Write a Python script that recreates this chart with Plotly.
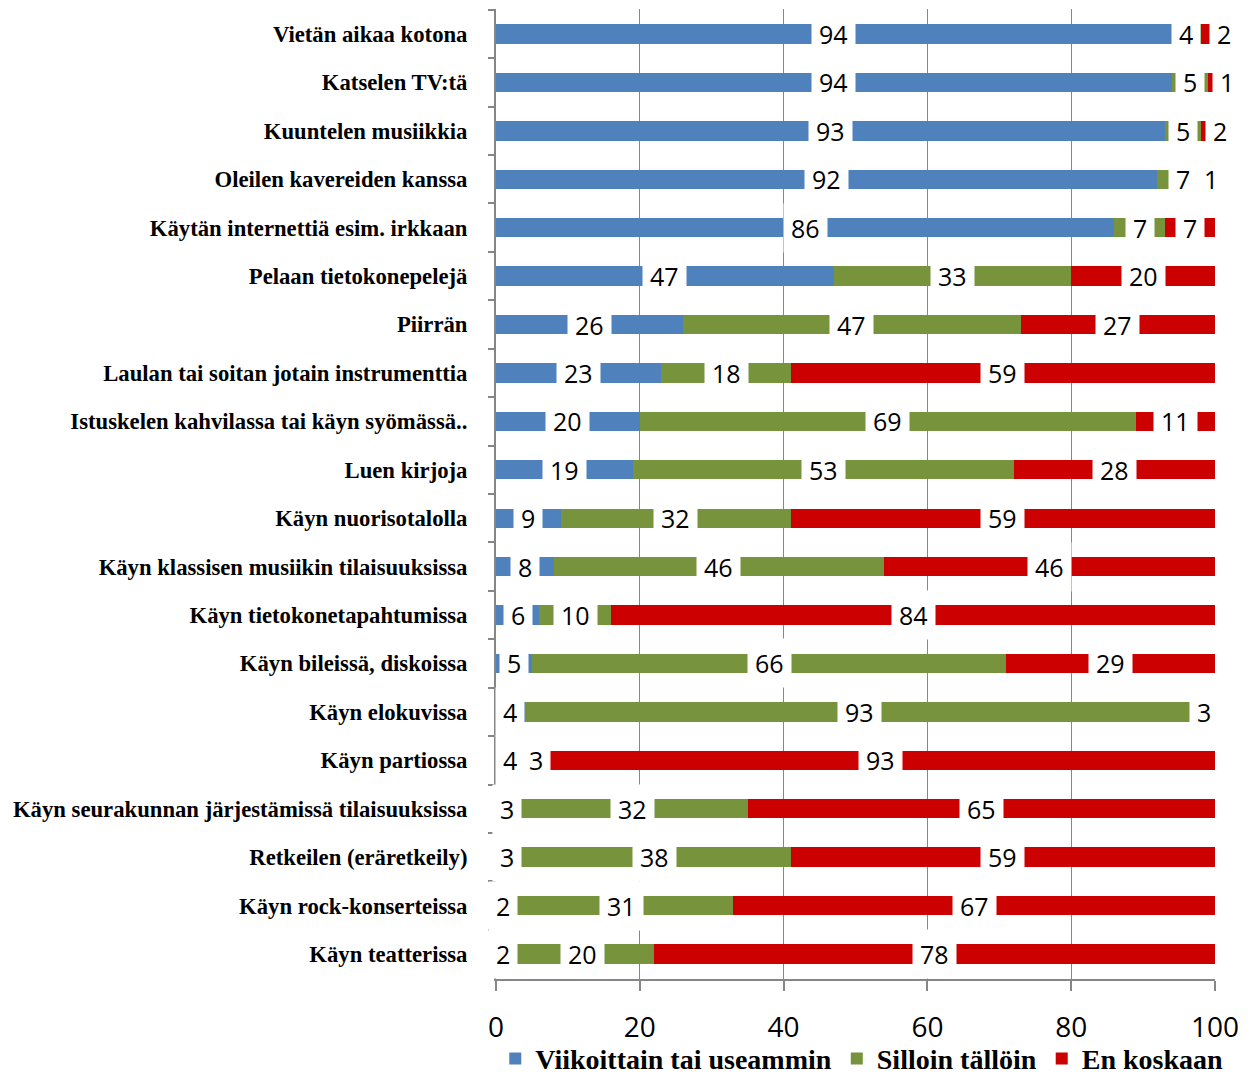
import plotly.graph_objects as go

categories = [
    "Vietän aikaa kotona",
    "Katselen TV:tä",
    "Kuuntelen musiikkia",
    "Oleilen kavereiden kanssa",
    "Käytän internettiä esim. irkkaan",
    "Pelaan tietokonepelejä",
    "Piirrän",
    "Laulan tai soitan jotain instrumenttia",
    "Istuskelen kahvilassa tai käyn syömässä..",
    "Luen kirjoja",
    "Käyn nuorisotalolla",
    "Käyn klassisen musiikin tilaisuuksissa",
    "Käyn tietokonetapahtumissa",
    "Käyn bileissä, diskoissa",
    "Käyn elokuvissa",
    "Käyn partiossa",
    "Käyn seurakunnan järjestämissä tilaisuuksissa",
    "Retkeilen (eräretkeily)",
    "Käyn rock-konserteissa",
    "Käyn teatterissa",
]
weekly = [94, 94, 93, 92, 86, 47, 26, 23, 20, 19, 9, 8, 6, 5, 4, 4, 3, 3, 2, 2]
sometimes = [4, 5, 5, 7, 7, 33, 47, 18, 69, 53, 32, 46, 10, 66, 93, 3, 32, 38, 31, 20]
never = [2, 1, 2, 1, 7, 20, 27, 59, 11, 28, 59, 46, 84, 29, 3, 93, 65, 59, 67, 78]

series_names = ["Viikoittain tai useammin", "Silloin tällöin", "En koskaan"]
series_values = [weekly, sometimes, never]
colors = ["#4F81BD", "#77933C", "#CC0000"]
x_ticks = [0, 20, 40, 60, 80, 100]

SERIF = "Liberation Serif, Times New Roman, serif"
SANS = "Open Sans, Liberation Sans, sans-serif"

W, H = 1257, 1075
ML, MR, MT, MB = 496, 42, 9, 96
plot_w = W - ML - MR
px_per_unit = plot_w / 100.0
LABEL_SIZE = 25
PAD = 7
GAP_PX = 9


def box_half_px(text):
    # approximate half-width (pixels) of a label box
    return len(text) * 0.572 * LABEL_SIZE / 2 + PAD


fig = go.Figure()
for name, vals, col in zip(series_names, series_values, colors):
    fig.add_trace(go.Bar(
        y=categories, x=vals, name=name, orientation="h",
        marker=dict(color=col, line=dict(width=0)),
    ))

# data labels at segment centres with white background boxes;
# the last label of a row is nudged right if it would collide with the previous one
annotations = []
for i, cat in enumerate(categories):
    base = 0
    prev_right_px = None
    n = len(series_values)
    for k, vals in enumerate(series_values):
        v = vals[i]
        t = str(v)
        xc = base + v / 2
        xc_px = xc * px_per_unit
        hw = box_half_px(t)
        shift = 0
        if k == n - 1 and prev_right_px is not None and xc_px - hw < prev_right_px:
            shift = prev_right_px + GAP_PX + hw - xc_px
        annotations.append(dict(
            x=xc, y=cat, xref="x", yref="y", xshift=shift,
            text=t, showarrow=False,
            font=dict(family=SANS, size=LABEL_SIZE, color="#000000"),
            bgcolor="#FFFFFF", borderpad=PAD,
        ))
        prev_right_px = xc_px + shift + hw
        base += v

fig.update_layout(
    barmode="stack",
    bargap=0.6,
    width=W, height=H,
    margin=dict(l=ML, r=MR, t=MT, b=MB, autoexpand=False),
    paper_bgcolor="#FFFFFF", plot_bgcolor="#FFFFFF",
    annotations=annotations,
    showlegend=True,
    legend=dict(
        orientation="h", xref="paper", yref="paper",
        x=-0.001, xanchor="left", y=-0.0822, yanchor="middle",
        font=dict(family=SERIF, size=28, color="#000000", weight="bold"),
        bgcolor="rgba(0,0,0,0)",
        traceorder="normal", itemwidth=30,
    ),
    xaxis=dict(
        range=[0, 100], tickvals=x_ticks, ticktext=[str(t) for t in x_ticks],
        showgrid=True, gridcolor="#868686", gridwidth=1.3,
        showline=True, linecolor="#868686", linewidth=2,
        ticks="outside", ticklen=10, tickcolor="#868686", tickwidth=2,
        tickfont=dict(family=SANS, size=28, color="#000000"),
        ticklabelstandoff=12, zeroline=False, automargin=False,
    ),
    yaxis=dict(
        categoryorder="array", categoryarray=categories, autorange="reversed",
        showline=True, linecolor="#868686", linewidth=2,
        ticks="outside", ticklen=6, tickcolor="#868686", tickwidth=2,
        tickson="boundaries",
        tickfont=dict(family=SERIF, size=22.7, color="#000000", weight="bold"),
        ticklabelstandoff=22, showgrid=False, zeroline=False, automargin=False,
    ),
)

fig.write_html(
    "out.html",
    config={"displayModeBar": False},
    post_script="document.body.style.margin='0';document.body.style.overflow='hidden';",
)
